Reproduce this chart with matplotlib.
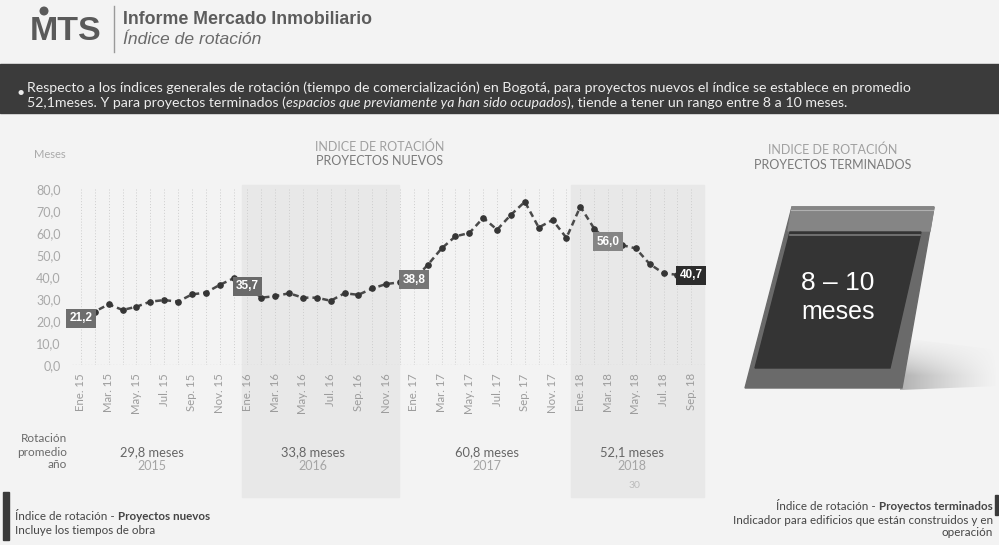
import matplotlib
matplotlib.use('Agg')
import matplotlib.pyplot as plt
from matplotlib.patches import Polygon, Rectangle, Circle
import numpy as np

# ---------------- data ----------------
values = [21.2, 24.3, 27.6, 25.0, 26.5, 28.8, 29.5, 28.8, 32.1, 32.9, 36.4, 39.4,
          35.7, 30.6, 31.3, 32.6, 30.6, 30.6, 29.2, 32.6, 31.9, 34.8, 36.8, 37.6,
          38.8, 45.5, 53.0, 58.5, 60.0, 66.9, 61.5, 68.3, 74.2, 62.5, 65.9, 57.8,
          72.0, 62.0, 56.0, 54.5, 53.0, 45.9, 41.7, 41.0, 40.7]
tick_labels = ['Ene. 15', 'Mar. 15', 'May. 15', 'Jul. 15', 'Sep. 15', 'Nov. 15',
               'Ene. 16', 'Mar. 16', 'May. 16', 'Jul. 16', 'Sep. 16', 'Nov. 16',
               'Ene. 17', 'Mar. 17', 'May. 17', 'Jul. 17', 'Sep. 17', 'Nov. 17',
               'Ene. 18', 'Mar. 18', 'May. 18', 'Jul. 18', 'Sep. 18']
label_idx = [0, 12, 24, 38, 44]
label_txt = ['21,2', '35,7', '38,8', '56,0', '40,7']
label_col = ['#6e6e6e', '#6a6a6a', '#767676', '#858585', '#2c2c2c']
yticks = [0, 10, 20, 30, 40, 50, 60, 70, 80]
years = ['2015', '2016', '2017', '2018']
year_avg = ['29,8 meses', '33,8 meses', '60,8 meses', '52,1 meses']
year_x = [152, 313, 487, 632]

W, H = 999, 545
fig = plt.figure(figsize=(W / 100, H / 100), dpi=100)
BG = '#f3f3f3'
fig.patch.set_facecolor(BG)

ov = fig.add_axes([0, 0, 1, 1], zorder=0)
ov.set_xlim(0, W)
ov.set_ylim(H, 0)
ov.axis('off')

SANS = ['Lato', 'DejaVu Sans']
ARIAL = ['Liberation Sans', 'DejaVu Sans']

def T(x, y, s, **kw):
    kw.setdefault('family', SANS)
    return ov.text(x, y, s, **kw)

renderer = fig.canvas.get_renderer()

def width(t):
    return t.get_window_extent(renderer).width

def runs_left(x, y, parts, **kw):
    for s, extra in parts:
        d = dict(kw); d.update(extra)
        t = T(x, y, s, ha='left', **d)
        x += width(t)

def runs_right(x, y, parts, **kw):
    for s, extra in reversed(parts):
        d = dict(kw); d.update(extra)
        t = T(x, y, s, ha='right', **d)
        x -= width(t)

# ---------------- header ----------------
T(30, 32, 'MTS', fontsize=24.5, fontweight='bold', color='#5a5a5a', va='center', family=ARIAL)
ov.add_patch(Circle((44, 11), 3.8, color='#5a5a5a'))
ov.plot([114, 114], [6, 52], color='#9a9a9a', lw=1)
T(123, 19, 'Informe Mercado Inmobiliario', fontsize=12.8, fontweight='bold', color='#5c5c5c',
  va='center', family=ARIAL)
T(123, 40, 'Índice de rotación', fontsize=12.6, style='italic', color='#6a6a6a', va='center', family=ARIAL)

# ---------------- banner ----------------
ov.add_patch(Rectangle((0, 64), W, 49, color='#3b3b3b', zorder=1))
bk = dict(fontsize=10.2, color='#ececec', va='center', zorder=2)
T(16, 93, '•', **bk)
T(27, 88, 'Respecto a los índices generales de rotación (tiempo de comercialización) en Bogotá, '
          'para proyectos nuevos el índice se establece en promedio', **bk)
runs_left(27, 103, [('52,1meses. Y para proyectos terminados (', {}),
                    ('espacios que previamente ya han sido ocupados', {'style': 'italic'}),
                    ('), tiende a tener un rango entre 8 a 10 meses.', {})], **bk)

# ---------------- chart background bands ----------------
def px_of(i):
    return 81 + 13.87 * i

for a, b in [(11.6, 22.9), (35.3, 44.9)]:
    ov.add_patch(Rectangle((px_of(a), 185), px_of(b) - px_of(a), 312, color='#e8e8e8', zorder=0.5))

# titles
T(380, 147, 'INDICE DE ROTACIÓN', fontsize=9, color='#a0a0a0', ha='center', va='center')
T(380, 161, 'PROYECTOS NUEVOS', fontsize=9, color='#7a7a7a', ha='center', va='center')
T(50, 155, 'Meses', fontsize=8, color='#aaaaaa', ha='center', va='center')

# ---------------- main line chart ----------------
L, R, TOP, BOT = 72, 705, 189, 365
ax = fig.add_axes([L / W, 1 - BOT / H, (R - L) / W, (BOT - TOP) / H], zorder=2)
ax.patch.set_alpha(0)
x = np.arange(len(values))
ax.set_xlim((L - 81) / 13.87, (R - 81) / 13.87)
ax.set_ylim(0, 80)
for s in ax.spines.values():
    s.set_visible(False)
for i in x:
    ax.axvline(i, color='#cdcdcd', lw=0.7, ls=(0, (1, 2)), zorder=1)
ax.axhline(0, color='#c4c4c4', lw=0.9, ls=(0, (1, 1.5)), zorder=1)
ax.plot(x, values, color='#4a4a4a', lw=1.8, ls=(0, (2.4, 1.6)), marker='o', ms=3.8,
        mfc='#363636', mec='#363636', zorder=3)
for i, s, c in zip(label_idx, label_txt, label_col):
    ax.text(i, values[i], s, ha='center', va='center', color='white', fontsize=8.5,
            fontweight='bold', family=ARIAL, zorder=5,
            bbox=dict(boxstyle='square,pad=0.28', fc=c, ec='none'))
ax.set_yticks(yticks)
ax.set_yticklabels([f'{v:.1f}'.replace('.', ',') for v in yticks], color='#a8a8a8',
                   fontsize=9, family=SANS)
ax.set_xticks(np.arange(0, len(values), 2))
ax.set_xticklabels(tick_labels, rotation=90, color='#9c9c9c', fontsize=8.2, family=SANS)
ax.tick_params(length=0, axis='y', pad=8)
ax.tick_params(length=0, axis='x', pad=6)

# ---------------- annual averages ----------------
for yy, s in zip([439, 452, 465], ['Rotación', 'promedio', 'año']):
    T(67, yy, s, fontsize=8.5, color='#6a6a6a', ha='right', va='center')
for xx, avg, yr in zip(year_x, year_avg, years):
    T(xx, 452, avg, fontsize=9.3, color='#666666', ha='center', va='center')
    T(xx, 466, yr, fontsize=9, color='#a5a5a5', ha='center', va='center')
T(634, 486, '30', fontsize=7.5, color='#bbbbbb', ha='center', va='center')

# ---------------- right panel ----------------
T(833, 150, 'INDICE DE ROTACIÓN', fontsize=9, color='#a0a0a0', ha='center', va='center')
T(833, 165, 'PROYECTOS TERMINADOS', fontsize=9, color='#7a7a7a', ha='center', va='center')
# soft shadow
nx, ny = 120, 60
xn = np.linspace(0, 1, nx)[None, :]
yn = np.linspace(0, 1, ny)[:, None]
alpha = 0.55 * (1 - xn) ** 1.3 * np.clip(yn * 1.4, 0, 1) ** 1.5
img = np.zeros((ny, nx, 4))
img[..., :3] = 0.45
img[..., 3] = alpha
im = ov.imshow(img, extent=[895, 999, 392, 335], origin='upper', zorder=1, aspect='auto',
               interpolation='bilinear')
clip = Polygon([(900, 338), (999, 350), (999, 386), (900, 390)], closed=True,
               transform=ov.transData, fc='none', ec='none')
ov.add_patch(clip)
im.set_clip_path(clip)
ov.set_xlim(0, W)
ov.set_ylim(H, 0)

ov.add_patch(Polygon([(792, 207), (934, 207), (902, 388), (745, 388)], closed=True,
                     color='#6a6a6a', zorder=2))
ov.add_patch(Polygon([(792, 207), (934, 207), (930, 231), (788, 231)], closed=True,
                     color='#858585', zorder=2.1))
ov.plot([791, 933], [210, 210], color='#b0b0b0', lw=0.8, zorder=2.2)
ov.add_patch(Polygon([(790, 232), (921, 232), (890, 368), (755, 368)], closed=True,
                     color='#343434', zorder=2.3))
ov.plot([790, 920], [235, 235], color='#7a7a7a', lw=1.2, zorder=2.4)
T(838, 283, '8 – 10', fontsize=19, color='white', ha='center', va='center', family=ARIAL, zorder=3)
T(838, 312, 'meses', fontsize=18, color='white', ha='center', va='center', family=ARIAL, zorder=3)

# ---------------- footers ----------------
ov.add_patch(Rectangle((3, 492), 6, 48, color='#3a3a3a', zorder=2))
fk = dict(fontsize=8.4, color='#454545', va='center')
runs_left(15, 517, [('Índice de rotación - ', {}), ('Proyectos nuevos', {'fontweight': 'bold'})], **fk)
T(15, 530, 'Incluye los tiempos de obra', **fk)

ov.add_patch(Rectangle((995, 495), 3, 20, color='#3a3a3a', zorder=2))
runs_right(993, 507, [('Índice de rotación - ', {}), ('Proyectos terminados', {'fontweight': 'bold'})], **fk)
T(993, 520, 'Indicador para edificios que están construidos y en', ha='right', **fk)
T(993, 533, 'operación', ha='right', **fk)

fig.savefig('out.png', dpi=100, facecolor=BG)
